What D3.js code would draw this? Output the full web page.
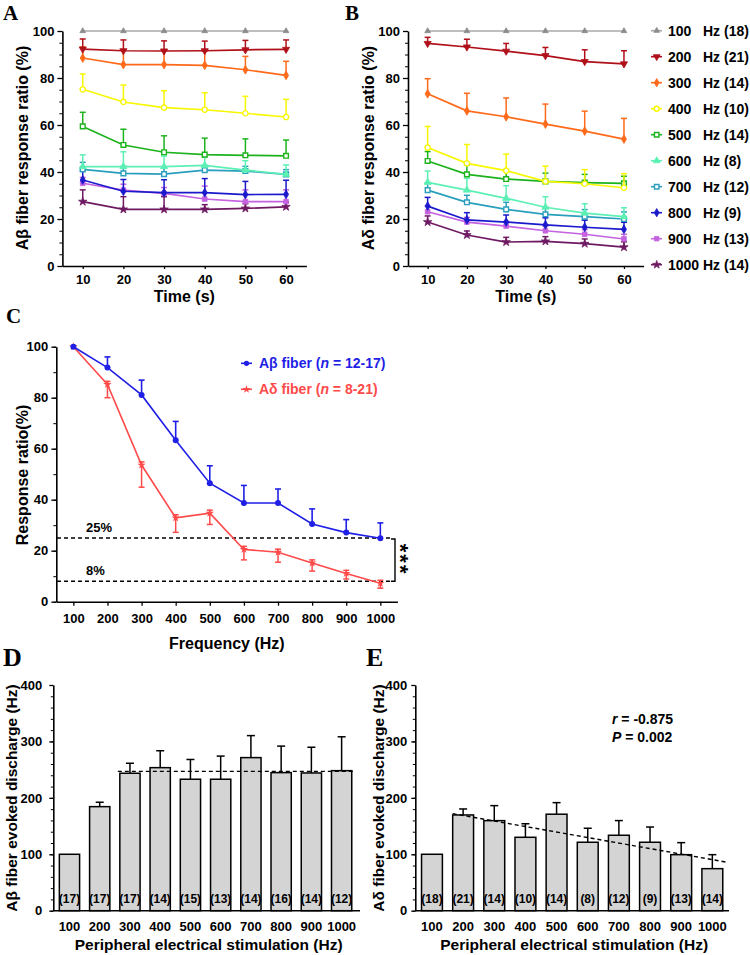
<!DOCTYPE html>
<html><head><meta charset="utf-8">
<script src="https://cdn.jsdelivr.net/npm/d3@7"></script>
<style>
body{margin:0;background:#fff}
svg{display:block}
text{font-family:"Liberation Sans",Arial,Helvetica,sans-serif;font-weight:bold;fill:#000}
</style>
</head><body>
<svg id="c" width="750" height="955"></svg>
<script>
// ---------------- DATA ----------------
const times = [10, 20, 30, 40, 50, 60];
const freqs = [100, 200, 300, 400, 500, 600, 700, 800, 900, 1000];
const freqLabels = ["100", "200", "300", "400", "500", "600", "700", "800", "900", "1000"];
const legendN = [18, 21, 14, 10, 14, 8, 12, 9, 13, 14];

// Panel A: Abeta fiber response ratio (%) per frequency series over time
const aMeans = [
  [100, 100, 100, 100, 100, 100],
  [92.3, 91.6, 91.5, 91.6, 92.0, 92.2],
  [88.5, 85.7, 85.7, 85.4, 83.5, 81.1],
  [75.2, 69.8, 67.4, 66.5, 65.0, 63.4],
  [59.4, 51.5, 48.4, 47.4, 47.1, 46.9],
  [42.3, 42.3, 42.3, 42.8, 40.8, 39.0],
  [41.1, 39.4, 39.1, 40.8, 40.4, 39.0],
  [36.6, 31.8, 31.2, 31.2, 30.4, 30.5],
  [35.2, 32.3, 30.9, 28.5, 27.4, 27.4],
  [27.4, 24.1, 24.1, 24.1, 24.5, 25.2]
];
const aErrs = [
  [0, 0, 0, 0, 0, 0],
  [4.3, 4.6, 4.3, 4.1, 4.0, 4.0],
  [4.7, 6.2, 6.2, 6.0, 5.7, 6.0],
  [6.5, 7.2, 7.2, 7.2, 7.2, 7.5],
  [6.0, 6.7, 7.0, 7.0, 7.0, 6.7],
  [5.0, 6.3, 4.5, 3.5, 4.0, 4.0],
  [3.0, 3.0, 3.0, 2.0, 2.0, 2.0],
  [4.0, 5.0, 5.5, 6.0, 5.6, 6.0],
  [2.5, 2.5, 2.5, 5.5, 5.0, 5.0],
  [5.0, 5.4, 5.4, 2.0, 2.0, 2.0]
];
// Panel B: Adelta fiber response ratio (%)
const bMeans = [
  [100, 100, 100, 100, 100, 100],
  [94.7, 93.2, 91.4, 89.5, 87.0, 86.0],
  [73.3, 66.0, 63.5, 60.4, 57.4, 54.0],
  [50.4, 43.7, 40.6, 36.0, 35.0, 33.3],
  [44.7, 39.0, 37.0, 36.0, 35.5, 35.2],
  [35.6, 32.3, 28.8, 25.0, 22.5, 21.0],
  [32.3, 27.1, 24.1, 22.0, 21.0, 20.0],
  [25.5, 19.6, 18.7, 17.5, 16.5, 15.6],
  [23.1, 18.7, 17.0, 15.0, 13.5, 11.5],
  [18.7, 13.2, 10.2, 10.5, 9.5, 8.0]
];
const bErrs = [
  [0, 0, 0, 0, 0, 0],
  [2.6, 3.3, 3.3, 3.5, 5.0, 5.6],
  [6.4, 7.5, 8.0, 8.5, 8.5, 8.8],
  [9.0, 8.0, 7.0, 6.5, 6.0, 6.0],
  [4.0, 4.0, 4.0, 3.5, 3.5, 3.0],
  [4.8, 5.0, 5.4, 4.5, 4.0, 3.8],
  [3.0, 3.0, 3.0, 3.0, 3.0, 3.0],
  [3.7, 3.1, 3.0, 3.0, 3.0, 3.0],
  [2.5, 2.0, 2.0, 2.0, 2.0, 2.0],
  [2.6, 1.7, 2.0, 2.0, 2.0, 2.3]
];
// Panel C
const abMean = [100, 91.8, 81.1, 63.3, 46.5, 38.7, 38.7, 30.5, 27.1, 24.9];
const abErr = [0, 4.2, 5.8, 7.4, 6.8, 6.9, 5.5, 5.9, 5.1, 6.0];
const adMean = [100, 85.2, 53.6, 32.9, 34.7, 20.5, 19.4, 15.2, 11.1, 7.2];
const adErr = [0, 5.2, 8.7, 5.7, 4.4, 4.1, 3.9, 3.2, 2.2, 1.9];
const cRefLines = [25, 8];
// Panel D
const dMean = [100, 184.4, 243.6, 253.5, 233, 233, 271.3, 244.7, 244.1, 248.2];
const dErr = [0, 7.8, 17.7, 30, 35, 41, 39, 47, 45.6, 60];
const dN = [17, 17, 17, 14, 15, 13, 14, 16, 14, 12];
const dPlateau = 247;
// Panel E
const eMean = [100, 169.7, 159.6, 130.1, 171, 121.3, 133.7, 121.3, 99.3, 74.5];
const eErr = [0, 10.6, 26.6, 24, 20.5, 24.8, 26, 27, 21.3, 24.8];
const eN = [18, 21, 14, 10, 14, 8, 12, 9, 13, 14];
const eFit = [172, 86];

// ---------------- STYLES ----------------
const seriesColors = ["#8c8c8c", "#b0101a", "#ff6a1a", "#f7f700", "#1db31d", "#5cf0b4", "#2a9fbd", "#1a1acc", "#c462e0", "#6e1a62"];
const lineColors = ["#a8a8a8", "#b0101a", "#ff6a1a", "#f7f700", "#1db31d", "#5cf0b4", "#2a9fbd", "#1a1acc", "#c462e0", "#6e1a62"];
const seriesSym = [d3.symbolTriangle, d3.symbolTriangle, d3.symbolDiamond, d3.symbolCircle, d3.symbolSquare,
                   d3.symbolTriangle, d3.symbolSquare, d3.symbolDiamond, d3.symbolSquare, d3.symbolStar];
const seriesRot = [0, 180, 0, 0, 0, 0, 0, 0, 0, 0];
const seriesOpen = [false, false, false, true, true, false, true, false, false, false];

const svg = d3.select("#c");

function styleAxis(sel, fs) {
  sel.selectAll("path.domain").attr("stroke", "#000").attr("stroke-width", 1.6);
  sel.selectAll(".tick line").attr("stroke", "#000").attr("stroke-width", 1.3);
  sel.selectAll(".tick text").attr("font-size", fs).attr("font-weight", "bold")
    .attr("font-family", '"Liberation Sans",Arial,sans-serif').attr("fill", "#000");
}

function drawMarker(g, cx, cy, i, size) {
  g.append("path")
    .attr("d", d3.symbol().type(seriesSym[i]).size(size)())
    .attr("transform", `translate(${cx},${cy}) rotate(${seriesRot[i]})`)
    .attr("fill", seriesOpen[i] ? "#fff" : seriesColors[i])
    .attr("stroke", seriesColors[i])
    .attr("stroke-width", seriesOpen[i] ? 1.4 : 0.8);
}

// ---------------- PANELS A & B ----------------
function timePanel(means, errs, xr, yTitle, letter, letterX) {
  const x = d3.scaleLinear().domain([5, 65]).range(xr);
  const y = d3.scaleLinear().domain([0, 100]).range([266, 31]);
  const g = svg.append("g");
  // minor y ticks
  g.append("g").attr("transform", `translate(${xr[0]},0)`)
    .call(d3.axisLeft(y).tickValues(d3.range(0, 101, 5)).tickSize(3).tickFormat(""))
    .call(s => { s.select(".domain").remove(); s.selectAll("line").attr("stroke", "#000").attr("stroke-width", 1); });
  const ya = g.append("g").attr("transform", `translate(${xr[0]},0)`)
    .call(d3.axisLeft(y).tickValues([0, 20, 40, 60, 80, 100]).tickSize(5).tickSizeOuter(0).tickPadding(3));
  styleAxis(ya, 13);
  const xa = g.append("g").attr("transform", `translate(0,266)`)
    .call(d3.axisBottom(x).tickValues(times).tickSize(3).tickSizeOuter(0).tickPadding(6));
  styleAxis(xa, 13);
  g.append("text").attr("x", (x(10) + x(60)) / 2).attr("y", 302).attr("text-anchor", "middle")
    .attr("font-size", 16).text("Time (s)");
  g.append("text").attr("transform", `translate(${xr[0] - 34.5},${148}) rotate(-90)`)
    .attr("text-anchor", "middle").attr("font-size", 16).text(yTitle);
  svg.append("text").attr("x", letterX).attr("y", 20).attr("font-size", 21)
    .style("font-family", '"Liberation Serif","Times New Roman",serif').text(letter);

  const line = d3.line().x((d, j) => x(times[j])).y(d => y(d));
  for (let i = means.length - 1; i >= 0; i--) {
    const sg = g.append("g");
    // error bars (upward)
    means[i].forEach((m, j) => {
      const e = errs[i][j];
      if (e <= 0) return;
      const cx = x(times[j]);
      sg.append("line").attr("x1", cx).attr("x2", cx).attr("y1", y(m)).attr("y2", y(m + e))
        .attr("stroke", seriesColors[i]).attr("stroke-width", 1.5);
      sg.append("line").attr("x1", cx - 3).attr("x2", cx + 3).attr("y1", y(m + e)).attr("y2", y(m + e))
        .attr("stroke", seriesColors[i]).attr("stroke-width", 1.5);
    });
    sg.append("path").attr("d", line(means[i])).attr("fill", "none")
      .attr("stroke", lineColors[i]).attr("stroke-width", i === 0 ? 1.3 : 1.7);
    means[i].forEach((m, j) => drawMarker(sg, x(times[j]), y(m), i, i === 0 ? 14 : 22));
  }
}
timePanel(aMeans, aErrs, [62.4, 306.4], "Aβ fiber response ratio (%)", "A", 3);
timePanel(bMeans, bErrs, [408, 643.6], "Aδ fiber response ratio (%)", "B", 345);

// legend A/B
freqs.forEach((f, i) => {
  const ly = 30.7 + i * 26;
  const lg = svg.append("g");
  lg.append("line").attr("x1", 651).attr("x2", 662).attr("y1", ly).attr("y2", ly)
    .attr("stroke", lineColors[i]).attr("stroke-width", 1.6);
  drawMarker(lg, 656.7, ly, i, i === 0 ? 14 : 20);
  lg.append("text").attr("x", 668).attr("y", ly).attr("dy", "0.36em").attr("font-size", 14).text(freqLabels[i]);
  lg.append("text").attr("x", 703).attr("y", ly).attr("dy", "0.36em").attr("font-size", 14)
    .text(`Hz (${legendN[i]})`);
});

// ---------------- PANEL C ----------------
(function () {
  const x = d3.scaleLinear().domain([50, 1050]).range([56.3, 397.4]);
  const y = d3.scaleLinear().domain([0, 100]).range([601.7, 346.7]);
  const g = svg.append("g");
  g.append("g").attr("transform", `translate(56.3,0)`)
    .call(d3.axisLeft(y).tickValues(d3.range(0, 101, 10)).tickSize(3).tickFormat(""))
    .call(s => { s.select(".domain").remove(); s.selectAll("line").attr("stroke", "#000"); });
  const ya = g.append("g").attr("transform", `translate(56.3,0)`)
    .call(d3.axisLeft(y).tickValues([0, 20, 40, 60, 80, 100]).tickSize(5).tickSizeOuter(0).tickPadding(3));
  styleAxis(ya, 13);
  const xa = g.append("g").attr("transform", `translate(0,601.7)`)
    .call(d3.axisBottom(x).tickValues(freqs).tickFormat(d3.format("d")).tickSize(4).tickSizeOuter(0).tickPadding(8));
  styleAxis(xa, 13);
  g.append("text").attr("x", (x(100) + x(1000)) / 2).attr("y", 649).attr("text-anchor", "middle")
    .attr("font-size", 16).text("Frequency (Hz)");
  g.append("text").attr("transform", `translate(28,475) rotate(-90)`).attr("text-anchor", "middle")
    .attr("font-size", 16).text("Response ratio(%)");
  svg.append("text").attr("x", 6).attr("y", 323).attr("font-size", 21)
    .style("font-family", '"Liberation Serif","Times New Roman",serif').text("C");

  // reference dashed lines
  cRefLines.forEach(v => {
    g.append("line").attr("x1", 57).attr("x2", 390).attr("y1", y(v)).attr("y2", y(v))
      .attr("stroke", "#000").attr("stroke-width", 1.5).attr("stroke-dasharray", "4,3");
    g.append("text").attr("x", 86).attr("y", y(v) - 6).attr("font-size", 13).text(v + "%");
  });
  // bracket + ***
  g.append("path").attr("d", `M391,${y(25) + 1}H395V${y(8)}H391`).attr("fill", "none")
    .attr("stroke", "#000").attr("stroke-width", 1.4);
  g.append("text").attr("transform", `translate(393,${(y(25) + y(8)) / 2}) rotate(90)`)
    .attr("text-anchor", "middle").attr("font-size", 22).attr("letter-spacing", 2).text("***");

  const blue = "#1f1fe6", red = "#ff4a4a";
  const line = d3.line().x((d, j) => x(freqs[j])).y(d => y(d));
  // Adelta (red) error bars downward
  adMean.forEach((m, j) => {
    const e = adErr[j]; if (e <= 0) return;
    const cx = x(freqs[j]);
    g.append("line").attr("x1", cx).attr("x2", cx).attr("y1", y(m + 1.2)).attr("y2", y(m - e)).attr("stroke", red).attr("stroke-width", 1.5);
    g.append("line").attr("x1", cx - 3).attr("x2", cx + 3).attr("y1", y(m - e)).attr("y2", y(m - e)).attr("stroke", red).attr("stroke-width", 1.5);
    g.append("line").attr("x1", cx - 3).attr("x2", cx + 3).attr("y1", y(m + 1.2)).attr("y2", y(m + 1.2)).attr("stroke", red).attr("stroke-width", 1.5);
  });
  g.append("path").attr("d", line(adMean)).attr("fill", "none").attr("stroke", red).attr("stroke-width", 1.6);
  adMean.forEach((m, j) => g.append("path").attr("d", d3.symbol().type(d3.symbolStar).size(22)())
    .attr("transform", `translate(${x(freqs[j])},${y(m)})`).attr("fill", red));
  // Abeta (blue) error bars upward
  abMean.forEach((m, j) => {
    const e = abErr[j]; if (e <= 0) return;
    const cx = x(freqs[j]);
    g.append("line").attr("x1", cx).attr("x2", cx).attr("y1", y(m)).attr("y2", y(m + e)).attr("stroke", blue).attr("stroke-width", 1.6);
    g.append("line").attr("x1", cx - 3).attr("x2", cx + 3).attr("y1", y(m + e)).attr("y2", y(m + e)).attr("stroke", blue).attr("stroke-width", 1.6);
  });
  g.append("path").attr("d", line(abMean)).attr("fill", "none").attr("stroke", blue).attr("stroke-width", 1.6);
  abMean.forEach((m, j) => g.append("circle").attr("cx", x(freqs[j])).attr("cy", y(m)).attr("r", 3).attr("fill", blue));

  // legend
  const leg = [[blue, "Aβ fiber (", "n", " = 12-17)", 363.3, "c"], [red, "Aδ fiber (", "n", " = 8-21)", 389.3, "s"]];
  leg.forEach(l => {
    g.append("line").attr("x1", 241).attr("x2", 252).attr("y1", l[4]).attr("y2", l[4]).attr("stroke", l[0]).attr("stroke-width", 1.6);
    if (l[5] === "c") g.append("circle").attr("cx", 246.5).attr("cy", l[4]).attr("r", 2.6).attr("fill", l[0]);
    else g.append("path").attr("d", d3.symbol().type(d3.symbolStar).size(20)()).attr("transform", `translate(246.5,${l[4]})`).attr("fill", l[0]);
    const t = g.append("text").attr("x", 259).attr("y", l[4]).attr("dy", "0.36em").attr("font-size", 14).style("fill", l[0]);
    t.append("tspan").text(l[1]);
    t.append("tspan").attr("font-style", "italic").text(l[2]);
    t.append("tspan").text(l[3]);
  });
})();

// ---------------- PANELS D & E ----------------
function barPanel(means, errs, ns, range, axisEnd, yTitle, letter, letterX, titleX, tickPad) {
  const x = d3.scaleBand().domain(freqLabels).range(range).paddingInner(0.33).paddingOuter(0.2);
  const y = d3.scaleLinear().domain([0, 400]).range([910.7, 685]);
  const x0 = range[0];
  const g = svg.append("g");
  g.append("g").attr("transform", `translate(${x0},0)`)
    .call(d3.axisLeft(y).tickValues(d3.range(0, 401, 20)).tickSize(2.5).tickFormat(""))
    .call(s => { s.select(".domain").remove(); s.selectAll("line").attr("stroke", "#000"); });
  const ya = g.append("g").attr("transform", `translate(${x0},0)`)
    .call(d3.axisLeft(y).tickValues([0, 100, 200, 300, 400]).tickSize(4).tickSizeOuter(0).tickPadding(tickPad));
  styleAxis(ya, 13);
  g.append("line").attr("x1", x0).attr("x2", axisEnd).attr("y1", 910.7).attr("y2", 910.7)
    .attr("stroke", "#000").attr("stroke-width", 1.6);
  const xa = g.append("g").attr("transform", `translate(0,910.7)`)
    .call(d3.axisBottom(x).tickSize(0).tickPadding(11.5));
  xa.select(".domain").remove();
  styleAxis(xa, 13);
  g.append("text").attr("x", (range[0] + axisEnd) / 2 + 2).attr("y", 949.5).attr("text-anchor", "middle")
    .attr("font-size", 15.5).text("Peripheral electrical stimulation (Hz)");
  g.append("text").attr("transform", `translate(${titleX},798) rotate(-90)`).attr("text-anchor", "middle")
    .attr("font-size", 15.5).text(yTitle);
  svg.append("text").attr("x", letterX).attr("y", 666).attr("font-size", 26)
    .style("font-family", '"Liberation Serif","Times New Roman",serif').text(letter);

  means.forEach((m, j) => {
    const bx = x(freqLabels[j]), bw = x.bandwidth(), cx = bx + bw / 2;
    const e = errs[j];
    if (e > 0) {
      g.append("line").attr("x1", cx).attr("x2", cx).attr("y1", y(m)).attr("y2", y(m + e)).attr("stroke", "#000").attr("stroke-width", 1.5);
      g.append("line").attr("x1", cx - 4).attr("x2", cx + 4).attr("y1", y(m + e)).attr("y2", y(m + e)).attr("stroke", "#000").attr("stroke-width", 1.5);
    }
    g.append("rect").attr("x", bx).attr("y", y(m)).attr("width", bw).attr("height", y(0) - y(m))
      .attr("fill", "#d4d4d4").attr("stroke", "#000").attr("stroke-width", 1.5);
    g.append("text").attr("x", cx).attr("y", 902.5).attr("text-anchor", "middle").attr("font-size", 12)
      .text(`(${ns[j]})`);
  });
  return { g, x, y };
}
const D = barPanel(dMean, dErr, dN, [53.3, 357.8], 360, "Aβ fiber evoked discharge (Hz)", "D", 3, 17, 7);
D.g.append("line")
  .attr("x1", D.x("300") - 2).attr("x2", D.x("1000") + D.x.bandwidth() + 1)
  .attr("y1", D.y(dPlateau)).attr("y2", D.y(dPlateau))
  .attr("stroke", "#000").attr("stroke-width", 1.4).attr("stroke-dasharray", "4,3");

const E = barPanel(eMean, eErr, eN, [415.3, 729], 729, "Aδ fiber evoked discharge (Hz)", "E", 366, 384, 4);
E.g.append("line")
  .attr("x1", E.x("200")).attr("x2", E.x("1000") + E.x.bandwidth() + 4)
  .attr("y1", E.y(eFit[0])).attr("y2", E.y(eFit[1]))
  .attr("stroke", "#000").attr("stroke-width", 1.4).attr("stroke-dasharray", "4,3");
const st1 = E.g.append("text").attr("x", 612).attr("y", 724).attr("font-size", 14);
st1.append("tspan").attr("font-style", "italic").text("r");
st1.append("tspan").text(" = -0.875");
const st2 = E.g.append("text").attr("x", 612).attr("y", 742).attr("font-size", 14);
st2.append("tspan").attr("font-style", "italic").text("P");
st2.append("tspan").text(" = 0.002");
</script>
</body></html>
